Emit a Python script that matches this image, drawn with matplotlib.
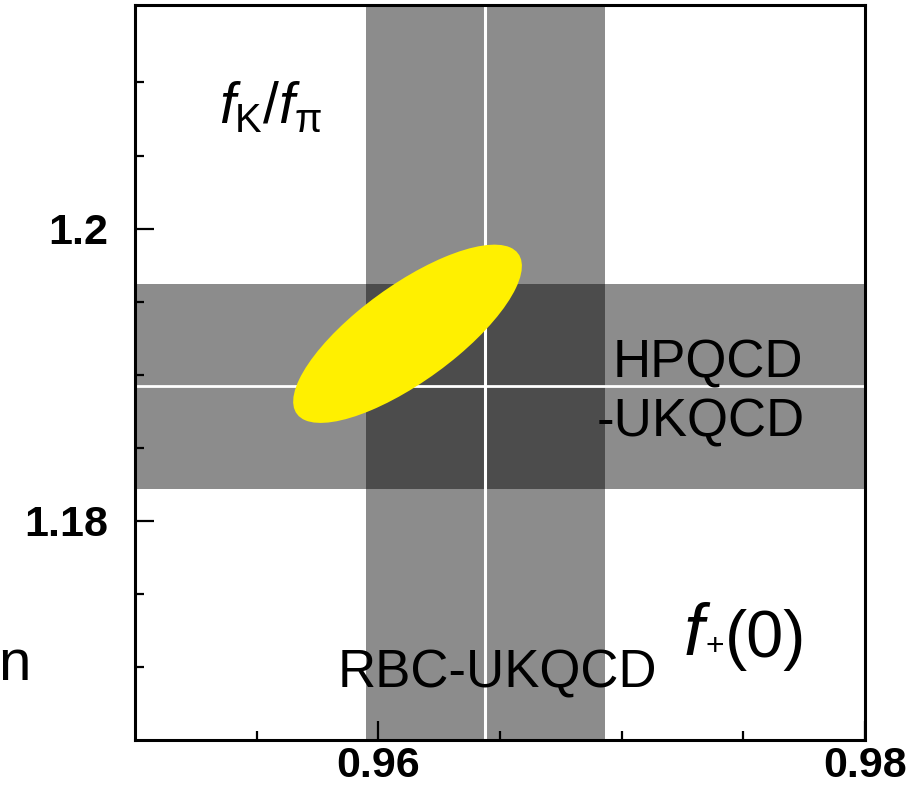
import matplotlib
matplotlib.use('Agg')
import matplotlib.pyplot as plt
import numpy as np
from matplotlib.patches import Ellipse

plt.rcParams['mathtext.fontset'] = 'custom'
plt.rcParams['mathtext.rm'] = 'Liberation Sans'
plt.rcParams['mathtext.it'] = 'Liberation Sans:italic'

# RBC-UKQCD f+(0) band
fplus_val = 0.9644
fplus_err = 0.0049
# HPQCD-UKQCD fK/fpi band
fkfpi_val = 1.1892
fkfpi_err = 0.0070
# fit ellipse: centre, half extents, correlation
ell_x = 0.9612
ell_y = 1.1928
ell_sx = 0.0047
ell_sy = 0.0061
ell_rho = 0.76

x_major = [0.96, 0.98]
x_minor = [0.955, 0.965, 0.97, 0.975]
y_major = [1.18, 1.20]
y_minor = [1.17, 1.175, 1.185, 1.19, 1.195, 1.205, 1.21]

W, H = 914, 786
fig = plt.figure(figsize=(W / 100, H / 100), dpi=100)
ax = fig.add_axes([135 / W, 1 - 740 / H, 730 / W, 735 / H])
ax.set_xlim(0.95, 0.98)
ax.set_ylim(1.165, 1.2153)

# bands, overlap gets darker through alpha
ax.axvspan(fplus_val - fplus_err, fplus_val + fplus_err, color='k', alpha=0.45, lw=0, zorder=1)
ax.axhspan(fkfpi_val - fkfpi_err, fkfpi_val + fkfpi_err, color='k', alpha=0.45, lw=0, zorder=1)
ax.axvline(fplus_val, color='white', lw=2.2, zorder=2)
ax.axhline(fkfpi_val, color='white', lw=2.0, zorder=2)

# ellipse from covariance
cov = np.array([[ell_sx**2, ell_rho * ell_sx * ell_sy],
                [ell_rho * ell_sx * ell_sy, ell_sy**2]])
vals, vecs = np.linalg.eigh(cov)
angle = np.degrees(np.arctan2(vecs[1, 1], vecs[0, 1]))
ell = Ellipse((ell_x, ell_y), 2 * np.sqrt(vals[1]), 2 * np.sqrt(vals[0]),
              angle=angle, facecolor='#fff000', edgecolor='none', zorder=3)
ax.add_patch(ell)

ax.set_xticks(x_major)
ax.set_xticks(x_minor, minor=True)
ax.set_yticks(y_major)
ax.set_yticks(y_minor, minor=True)
ax.set_xticklabels(['0.96', '0.98'])
ax.set_yticklabels(['1.18', '1.2'])
ax.tick_params(which='both', direction='in', width=1.6, top=False, right=False)
ax.tick_params(which='major', length=14)
ax.tick_params(which='minor', length=6.5)
ax.tick_params(axis='x', pad=4)
ax.tick_params(axis='y', pad=19)
for lab in ax.get_xticklabels() + ax.get_yticklabels():
    lab.set_fontfamily('Liberation Sans')
    lab.set_fontweight('bold')
    lab.set_fontsize(31)
for sp in ax.spines.values():
    sp.set_linewidth(2.2)


def put(x, y, s, size, style='normal', ha='left', va='baseline'):
    fig.text(x / W, 1 - y / H, s, fontsize=size, fontstyle=style,
             family='Liberation Sans', ha=ha, va=va)


put(613, 377, 'HPQCD', 38)
put(597, 437, '-UKQCD', 38)
put(338, 687, 'RBC-UKQCD', 38)

# fK/fpi
put(219, 123, r'$f_{\mathrm{K}}/f_{\mathrm{\pi}}$', 41)

# f+(0)
put(684, 655, 'f', 52, 'italic')
put(715, 647, '+', 23, ha='center', va='center')
put(725, 657, '(0)', 48)

put(31, 680, 'n', 42, ha='right')

fig.savefig('out.png', dpi=100)
